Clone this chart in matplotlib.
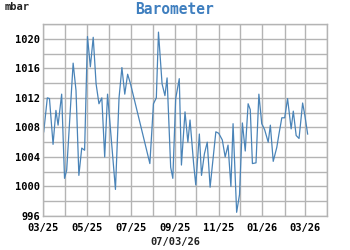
"""Barometer history, March 2025 - March 2026."""
import matplotlib
matplotlib.use("Agg")
import matplotlib.dates as mdates
import matplotlib.pyplot as plt
import numpy as np
from matplotlib.ticker import MultipleLocator

DATES = [
    "2025-03-02", "2025-03-07", "2025-03-10", "2025-03-15", "2025-03-19",
    "2025-03-22", "2025-03-27", "2025-03-31", "2025-04-03", "2025-04-12",
    "2025-04-16", "2025-04-20", "2025-04-24", "2025-04-28", "2025-05-02",
    "2025-05-06", "2025-05-10", "2025-05-14", "2025-05-18", "2025-05-22",
    "2025-05-26", "2025-05-30", "2025-06-10", "2025-06-15", "2025-06-19",
    "2025-06-23", "2025-06-27", "2025-07-01", "2025-07-28", "2025-08-02",
    "2025-08-06", "2025-08-09", "2025-08-14", "2025-08-18", "2025-08-21",
    "2025-08-26", "2025-08-29", "2025-09-02", "2025-09-07", "2025-09-10",
    "2025-09-15", "2025-09-19", "2025-09-22", "2025-09-27", "2025-09-30",
    "2025-10-05", "2025-10-08", "2025-10-12", "2025-10-16", "2025-10-20",
    "2025-10-28", "2025-11-01", "2025-11-06", "2025-11-10", "2025-11-14",
    "2025-11-18", "2025-11-21", "2025-11-26", "2025-11-30", "2025-12-04",
    "2025-12-08", "2025-12-12", "2025-12-15", "2025-12-18", "2025-12-23",
    "2025-12-27", "2025-12-31", "2026-01-04", "2026-01-09", "2026-01-12",
    "2026-01-16", "2026-01-21", "2026-01-24", "2026-01-28", "2026-02-01",
    "2026-02-05", "2026-02-10", "2026-02-13", "2026-02-17", "2026-02-21",
    "2026-02-26", "2026-03-01", "2026-03-05",
]
PRESSURE = [
    1007.4, 1012.0, 1011.9, 1005.7, 1010.3,
    1008.3, 1012.5, 1001.1, 1002.2, 1016.7,
    1013.0, 1001.5, 1005.2, 1004.9, 1020.3,
    1016.2, 1020.2, 1013.9, 1011.2, 1012.0,
    1004.0, 1012.5, 999.6, 1012.0, 1016.1,
    1012.5, 1015.2, 1013.9, 1003.1, 1011.2,
    1012.0, 1020.9, 1013.9, 1012.3, 1014.7,
    1002.6, 1001.1, 1011.9, 1014.6, 1002.9,
    1010.1, 1006.0, 1009.0, 1003.1, 1000.2,
    1007.1, 1001.5, 1004.4, 1006.0, 999.9,
    1007.4, 1007.2, 1006.3, 1004.0, 1005.6,
    1000.0, 1008.5, 996.5, 998.9, 1008.6,
    1004.8, 1011.2, 1010.4, 1003.1, 1003.2,
    1012.5, 1008.5, 1007.7, 1006.0, 1008.3,
    1003.4, 1005.3, 1007.1, 1009.3, 1009.3,
    1011.9, 1007.8, 1010.2, 1006.9, 1006.5,
    1011.3, 1009.7, 1007.1,
]
X_RANGE = ["2025-03-01", "2026-04-01"]
Y_RANGE = [996, 1022]
TITLE = "Barometer"
UNIT = "mbar"
XLABEL = "07/03/26"

LINE_COLOR = "#4a84b8"
TITLE_COLOR = "#3f7fbf"
GRID_COLOR = "#b4b4b4"
MONO = "DejaVu Sans Mono"

fig = plt.figure(figsize=(3.5, 2.5), dpi=100)
ax = fig.add_axes([0.1229, 0.136, 0.8114, 0.768])

x = np.array(DATES, dtype="datetime64[D]")
ax.plot(x, PRESSURE, color=LINE_COLOR, lw=0.9)

ax.set_xlim(np.datetime64(X_RANGE[0]), np.datetime64(X_RANGE[1]))
ax.set_ylim(*Y_RANGE)

ax.xaxis.set_major_locator(mdates.MonthLocator(bymonth=[1, 3, 5, 7, 9, 11]))
ax.xaxis.set_minor_locator(mdates.MonthLocator())
ax.xaxis.set_major_formatter(mdates.DateFormatter("%m/%y"))
ax.yaxis.set_major_locator(MultipleLocator(4))
ax.yaxis.set_minor_locator(MultipleLocator(2))

ax.grid(True, which="both", color=GRID_COLOR, lw=1.0)
ax.set_axisbelow(True)
for s in ax.spines.values():
    s.set_color(GRID_COLOR)
    s.set_linewidth(1.0)

ax.tick_params(which="both", length=0)
ax.tick_params(axis="y", pad=2)
ax.tick_params(axis="x", pad=5)
for lab in ax.get_xticklabels() + ax.get_yticklabels():
    lab.set_fontfamily(MONO)
    lab.set_fontweight("bold")
    lab.set_fontsize(7.5)

fig.text(0.5, 0.962, TITLE, ha="center", va="center", color=TITLE_COLOR,
         fontfamily=MONO, fontweight="bold", fontsize=10.5)
fig.text(0.012, 0.97, UNIT, ha="left", va="center", color="#222222",
         fontfamily=MONO, fontweight="bold", fontsize=7.5)
fig.text(0.5, 0.032, XLABEL, ha="center", va="center", color="#222222",
         fontfamily=MONO, fontweight="bold", fontsize=7.5)

fig.savefig("out.png", dpi=100)
